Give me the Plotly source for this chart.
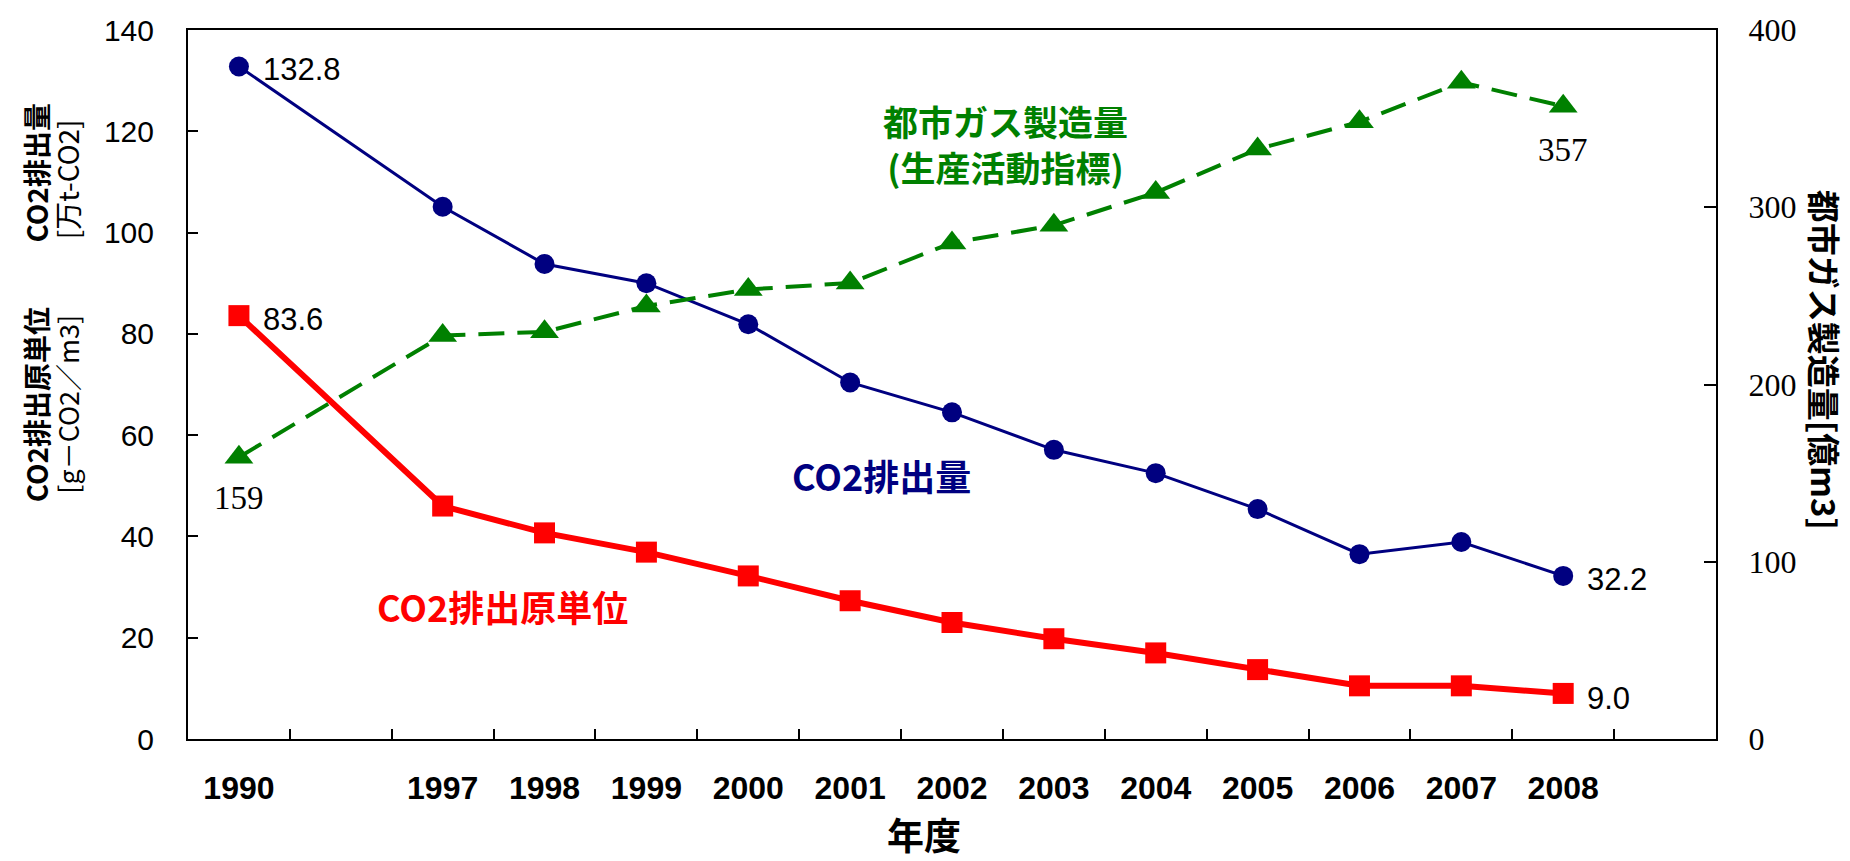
import plotly.graph_objects as go

# ---- data ----
categories = ["1990", " ", "1997", "1998", "1999", "2000", "2001", "2002",
              "2003", "2004", "2005", "2006", "2007", "2008", "  "]
years = ["1990", "1997", "1998", "1999", "2000", "2001", "2002",
         "2003", "2004", "2005", "2006", "2007", "2008"]
co2_emission = [132.8, 105.1, 93.8, 90.0, 81.9, 70.4, 64.5, 57.1, 52.5, 45.4, 36.5, 38.9, 32.2]
co2_intensity = [83.6, 46.0, 40.7, 36.9, 32.2, 27.3, 23.0, 19.8, 17.0, 13.7, 10.5, 10.5, 9.0]
gas_production = [159, 227.6, 229.7, 244.3, 253.6, 257.3, 279.9, 289.8, 308.3, 332.8, 348.2, 370.5, 357]

NAVY = "#000080"
RED = "#FF0000"
GREEN = "#008000"
SANS = "Liberation Sans, Arial, Noto Sans CJK JP, sans-serif"
SERIF = "Liberation Serif, DejaVu Serif, serif"
CJK = "Noto Sans CJK JP, sans-serif"

fig = go.Figure()

fig.add_trace(go.Scatter(
    x=years, y=co2_emission, mode="lines+markers", name="CO2排出量",
    line=dict(color=NAVY, width=3),
    marker=dict(symbol="circle", size=20, color=NAVY),
))
fig.add_trace(go.Scatter(
    x=years, y=co2_intensity, mode="lines+markers", name="CO2排出原単位",
    line=dict(color=RED, width=6),
    marker=dict(symbol="square", size=21, color=RED),
))
fig.add_trace(go.Scatter(
    x=years, y=gas_production, mode="lines+markers", name="都市ガス製造量",
    yaxis="y2",
    line=dict(color=GREEN, width=4, dash="26px,13px"),
    marker=dict(symbol="triangle-up", size=25, color=GREEN),
))

annotations = []

# data labels (x given as category index)
def lab(year, y, text, font, xanchor="left", xshift=0, yshift=0, yref="y"):
    annotations.append(dict(x=categories.index(year), y=y, xref="x", yref=yref, text=text,
                            showarrow=False, xanchor=xanchor, yanchor="middle",
                            xshift=xshift, yshift=yshift, font=font))

sans_lab = dict(family=SANS, size=31, color="black")
serif_lab = dict(family=SERIF, size=33, color="black")
lab(years[0], co2_emission[0], f"{co2_emission[0]:.1f}", sans_lab, xshift=22, yshift=-3)
lab(years[0], co2_intensity[0], f"{co2_intensity[0]:.1f}", sans_lab, xshift=22, yshift=-4)
lab(years[-1], co2_emission[-1], f"{co2_emission[-1]:.1f}", sans_lab, xshift=22, yshift=-4)
lab(years[-1], co2_intensity[-1], f"{co2_intensity[-1]:.1f}", sans_lab, xshift=22, yshift=-5)
lab(years[0], gas_production[0], f"{gas_production[0]:d}", serif_lab, xanchor="center", yshift=-41, yref="y2")
lab(years[-1], gas_production[-1], f"{gas_production[-1]:d}", serif_lab, xanchor="center", yshift=-44, yref="y2")

def ptext(x, y, text, font, angle=0):
    annotations.append(dict(x=x, y=y, xref="paper", yref="paper", showarrow=False,
                            xanchor="center", yanchor="middle", align="center",
                            textangle=angle, text=text, font=font))

# series names
ptext(0.535, 0.8395, "<b>都市ガス製造量<br>(生産活動指標)</b>", dict(family=CJK, size=35, color=GREEN))
ptext(0.454, 0.372, "<b>CO2排出量</b>", dict(family=CJK, size=36, color=NAVY))
ptext(0.206, 0.188, "<b>CO2排出原単位</b>", dict(family=CJK, size=36, color=RED))

# axis titles
ptext(0.482, -0.1346, "<b>年度</b>", dict(family=CJK, size=37, color="black"))
ptext(-0.0995, 0.799, "<b>CO2排出量</b>", dict(family=CJK, size=28, color="black"), angle=-90)
ptext(-0.0790, 0.790, "[万t-CO2]", dict(family=CJK, size=28, color="black"), angle=-90)
ptext(-0.0995, 0.472, "<b>CO2排出原単位</b>", dict(family=CJK, size=28, color="black"), angle=-90)
ptext(-0.0790, 0.472, "[g－CO2／m3]", dict(family=CJK, size=27, color="black"), angle=-90)
ptext(1.0713, 0.535, "<b>都市ガス製造量[億m3]</b>", dict(family=CJK, size=33, color="black"), angle=90)

fig.update_layout(
    width=1850, height=861,
    margin=dict(l=188, r=134, t=21, b=122),
    paper_bgcolor="white", plot_bgcolor="white",
    showlegend=False,
    annotations=annotations,
    xaxis=dict(
        type="category", categoryorder="array", categoryarray=categories,
        range=[-0.5, len(categories) - 0.5],
        showgrid=False, zeroline=False,
        showline=True, linecolor="black", linewidth=2, mirror=True,
        ticks="inside", ticklen=10, tickwidth=1.5, tickcolor="black",
        tickson="boundaries",
        tickfont=dict(family=SANS, size=32, color="black", weight="bold"),
        ticklabelstandoff=20,
    ),
    yaxis=dict(
        range=[0, 140], tickvals=[0, 20, 40, 60, 80, 100, 120, 140],
        showgrid=False, zeroline=False,
        showline=True, linecolor="black", linewidth=2,
        ticks="inside", ticklen=10, tickwidth=1.5, tickcolor="black",
        tickfont=dict(family=SANS, size=30, color="black"),
        ticklabelstandoff=26,
    ),
    yaxis2=dict(
        range=[0, 400], tickvals=[0, 100, 200, 300, 400],
        overlaying="y", side="right",
        showgrid=False, zeroline=False,
        showline=True, linecolor="black", linewidth=2,
        ticks="inside", ticklen=12, tickwidth=1.5, tickcolor="black",
        tickfont=dict(family=SERIF, size=32, color="black"),
        ticklabelstandoff=24,
    ),
)

fig.write_html("out.html")
